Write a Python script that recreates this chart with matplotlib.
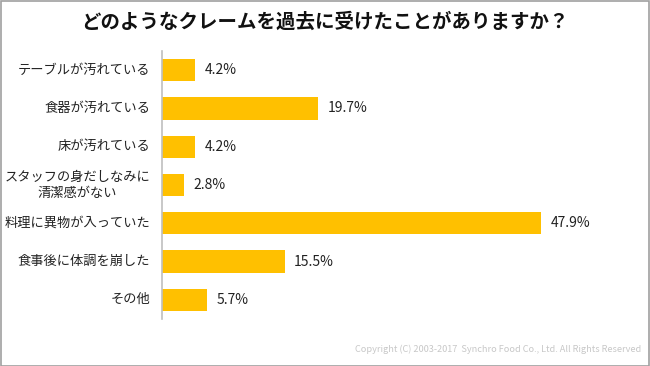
import matplotlib
matplotlib.use("Agg")
import matplotlib.pyplot as plt
from matplotlib.patches import Rectangle

plt.rcParams['font.family'] = ['Noto Sans CJK JP', 'DejaVu Sans']

categories = ["テーブルが汚れている", "食器が汚れている", "床が汚れている",
              "スタッフの身だしなみに\n清潔感がない", "料理に異物が入っていた",
              "食事後に体調を崩した", "その他"]
values = [4.2, 19.7, 4.2, 2.8, 47.9, 15.5, 5.7]
title = "どのようなクレームを過去に受けたことがありますか？"
copyright_text = "Copyright (C) 2003-2017  Synchro Food Co., Ltd. All Rights Reserved"

W, H = 650, 366
fig = plt.figure(figsize=(6.5, 3.66), dpi=100)
# axes: left 162px, right 620px, top 51px, bottom 319px
ax = fig.add_axes([162 / W, 1 - 319 / H, (620 - 162) / W, (319 - 51) / H])

y = list(range(len(categories)))
ax.barh(y, values, height=0.58, color="#FFC000")
ax.set_ylim(len(categories) - 0.5, -0.5)
ax.set_xlim(0, (620 - 162) / 7.91)
ax.set_yticks([])
ax.set_xticks([])
for s in ["top", "right", "bottom"]:
    ax.spines[s].set_visible(False)
ax.spines["left"].set_color("#BFBFBF")
ax.spines["left"].set_linewidth(1.2)

for yi, cat in zip(y, categories):
    ax.annotate(cat, xy=(0, yi), xycoords=ax.get_yaxis_transform(),
                xytext=(-12, 0), textcoords="offset pixels",
                ha="right", va="center", multialignment="center",
                fontsize=9.5, color="#222222", linespacing=1.3)

for yi, v in zip(y, values):
    ax.text(v + 1.2, yi, f"{v:.1f}%", va="center", ha="left", fontsize=10, color="#222222")

fig.text(0.5, 1 - 22 / H, title, ha="center", va="center", fontsize=14, fontweight="bold", color="#111111")
fig.text(641 / W, 1 - 349 / H, copyright_text, ha="right", va="center", fontsize=6.6, color="#C8C8C8")

fig.patches.append(Rectangle((0.5 / W, 0.5 / H), (W - 1.5) / W, (H - 1.5) / H,
                             transform=fig.transFigure, fill=False, edgecolor="#A0A0A0", linewidth=1.2))

fig.savefig("out.png", dpi=100)
